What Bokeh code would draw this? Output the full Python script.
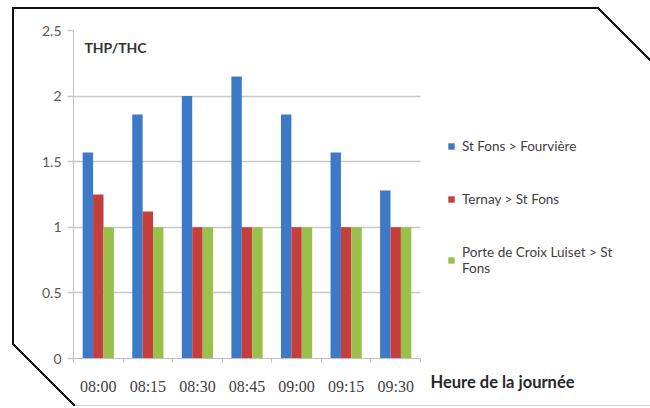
import numpy as np
from bokeh.plotting import figure
from bokeh.models import (Range1d, FixedTicker, NumeralTickFormatter, Legend, LegendItem,
                          Label, ColumnDataSource, Title)
from bokeh.embed import file_html
from bokeh.resources import INLINE

times = ["08:00", "08:15", "08:30", "08:45", "09:00", "09:15", "09:30"]
series_names = ["St Fons > Fourvière", "Ternay > St Fons", "Porte de Croix Luiset > St\nFons"]
st_fons_fourviere = [1.57, 1.86, 2.0, 2.15, 1.86, 1.57, 1.28]
ternay_st_fons = [1.25, 1.12, 1.0, 1.0, 1.0, 1.0, 1.0]
porte_croix_luiset = [1.0, 1.0, 1.0, 1.0, 1.0, 1.0, 1.0]
y_ticks = [0, 0.5, 1, 1.5, 2, 2.5]
y_title = "THP/THC"
x_title = "Heure de la journée"

colors = ["#3c79c6", "#c43e3c", "#98c04a"]
offsets = [-0.21, 0.0, 0.21]
bar_w = 0.21
n = len(times)

# the plot frame spans to the right edge so the legend (drawn inside it) is not clipped;
# the category area covers 347 of its 577 pixels
x_end = n * 577 / 347

p = figure(width=650, height=408, output_backend="svg", toolbar_location=None,
           x_range=Range1d(0, x_end), y_range=Range1d(0, 2.5),
           min_border_left=73, min_border_right=0, min_border_top=30, min_border_bottom=50)
p.outline_line_color = None
p.background_fill_color = None
p.border_fill_color = None

# decorative black frame with cut corners (CSS background of the figure element)
diag = ("linear-gradient(to top right, transparent calc(50% - 1.2px), #111 calc(50% - 1.2px), "
        "#111 calc(50% + 1.2px), transparent calc(50% + 1.2px))")
solid = "linear-gradient(#111, #111)"
p.styles = {
    "background-color": "white",
    "background-image": ", ".join([solid, solid, diag, diag, "linear-gradient(#d4d4d4, #d4d4d4)"]),
    "background-repeat": "no-repeat",
    "background-position": "12px 7px, 12px 7px, 597px 7px, 12px 343px, 75px 405px",
    "background-size": "586px 2px, 2px 337px, 54px 54px, 63px 63px, 575px 1px",
}

centers = np.arange(n) + 0.5
renderers = []
for vals, c, off in zip([st_fons_fourviere, ternay_st_fons, porte_croix_luiset], colors, offsets):
    src = ColumnDataSource(dict(x=centers + off, top=vals))
    r = p.vbar(x="x", top="top", width=bar_w, bottom=0, source=src,
               fill_color=c, line_color=None)
    renderers.append(r)

# x axis
xax = p.xaxis[0]
xax.bounds = (0, n)
xax.ticker = FixedTicker(ticks=list(centers), minor_ticks=list(np.arange(n + 1)))
xax.major_label_overrides = {float(c): t for c, t in zip(centers, times)}
xax.axis_line_color = "#bfbfbf"
xax.major_tick_line_color = None
xax.major_tick_out = 0
xax.major_tick_in = 0
xax.minor_tick_line_color = "#bfbfbf"
xax.minor_tick_out = 4
xax.minor_tick_in = 0
xax.major_label_standoff = 15
xax.major_label_text_font = "Liberation Serif"
xax.major_label_text_font_size = "16px"
xax.major_label_text_color = "#404040"
p.xgrid.grid_line_color = None

# x-axis title, to the right of the tick labels
p.add_layout(Title(text=x_title, align="left", offset=357, standoff=-52, vertical_align="top",
                   text_font="Lato", text_font_style="bold", text_font_size="16.5px",
                   text_color="#262626"), "below")

# y axis
p.yaxis.ticker = FixedTicker(ticks=y_ticks)
p.yaxis.formatter = NumeralTickFormatter(format="0.[0]")
p.yaxis.axis_line_color = "#bfbfbf"
p.yaxis.major_tick_line_color = "#c8c8c8"
p.yaxis.major_tick_line_width = 1.5
p.yaxis.major_tick_out = 6
p.yaxis.major_tick_in = 0
p.yaxis.minor_tick_line_color = None
p.yaxis.major_label_standoff = 6
p.yaxis.major_label_text_font = "Lato"
p.yaxis.major_label_text_font_size = "14px"
p.yaxis.major_label_text_color = "#595959"

grid = p.ygrid[0]
grid.grid_line_color = "#c8c8c8"
grid.grid_line_width = 1.5
if "cross_bounds" in grid.properties():
    grid.cross_bounds = (0, n)
else:
    grid.grid_line_color = None
    p.segment(x0=0, x1=n, y0=y_ticks[1:], y1=y_ticks[1:], line_color="#c8c8c8",
              line_width=1.5, level="underlay")

# series legend
items = [LegendItem(label=nm, renderers=[r]) for nm, r in zip(series_names, renderers)]
legend = Legend(items=items, location=(374, 82), padding=0, margin=0, spacing=37,
                glyph_width=8, glyph_height=8, label_standoff=7,
                label_text_font="Lato", label_text_font_size="13.5px",
                label_text_line_height=1.4,
                label_text_color="#404040", border_line_color=None,
                background_fill_alpha=0)
p.add_layout(legend, "center")

p.add_layout(Label(x=0.22, y=2.37, text=y_title, text_font="Lato", text_font_style="bold",
                   text_font_size="14px", text_color="#333333", text_baseline="middle"))

open("out.html", "w").write(file_html(p, INLINE))
